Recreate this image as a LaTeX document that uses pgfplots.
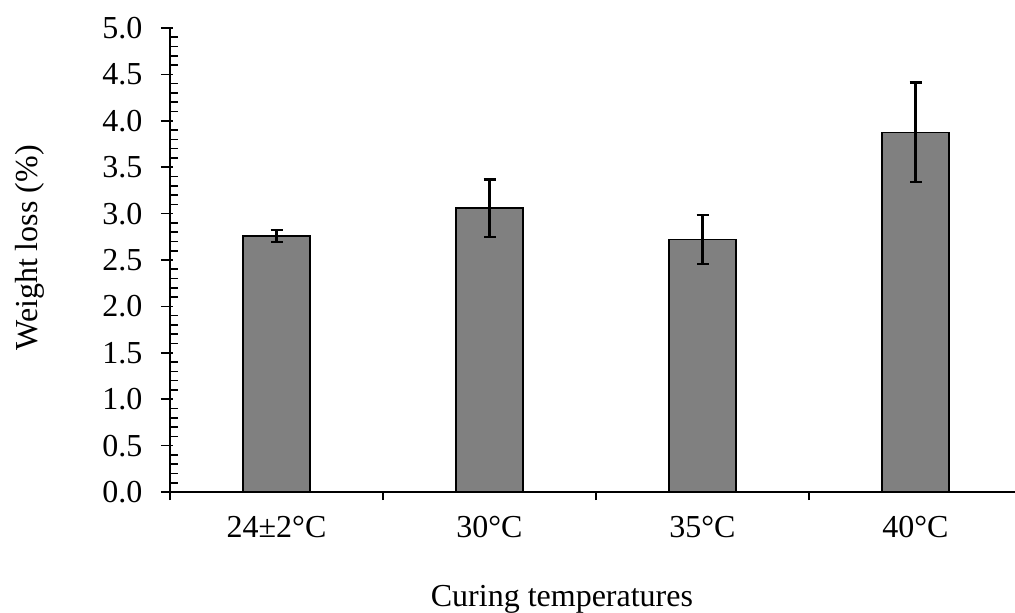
\documentclass[border=0pt]{standalone}
\usepackage{fontspec}
\setmainfont{Liberation Serif}
\usepackage{pgfplots}
\pgfplotsset{compat=1.18}
\definecolor{bargray}{RGB}{128,128,128}
\pgfplotstableread{
x y err
0 2.76 0.065
1 3.06 0.31
2 2.72 0.265
3 3.875 0.535
}\datatable
\begin{document}
\fontsize{16pt}{19pt}\selectfont
\begin{tikzpicture}
\begin{axis}[
  at={(85pt,60pt)}, anchor=south west,
  scale only axis, width=426pt, height=232pt,
  xmin=-0.5, xmax=3.5, ymin=0, ymax=5,
  axis lines*=left,
  axis line style={line width=0.9pt, black},
  ybar, bar width=33.5pt,
  xtick={0,1,2,3},
  xticklabels={24±2°C,30°C,35°C,40°C},
  minor xtick={-0.5,0.5,1.5,2.5,3.5},
  ytick={0,0.5,...,5},
  minor y tick num=4,
  tick align=outside,
  major tick length=5.85pt,
  minor tick length=4pt,
  every tick/.style={black, line width=0.8pt},
  every major x tick/.append style={draw=none},
  every major y tick/.append style={xshift=1.35pt},
  every minor y tick/.append style={xshift=4pt},
  yticklabel style={anchor=east, inner sep=0pt, xshift=-7.8pt,
    /pgf/number format/fixed, /pgf/number format/fixed zerofill,
    /pgf/number format/precision=1, /pgf/number format/assume math mode=true},
  xticklabel style={anchor=base, inner sep=0pt, yshift=-17pt},
  xlabel={Curing temperatures},
  xlabel style={at={(axis description cs:0.46,-0.2457)}, anchor=base, inner sep=0pt},
  ylabel={Weight loss (\%)},
  ylabel style={at={(axis description cs:-0.1643,0.526)}, anchor=center, inner sep=0pt},
]
\addplot[fill=bargray, draw=black, line width=0.85pt,
  error bars/.cd, y dir=both, y explicit,
  error bar style={line width=1.3pt, black},
  error mark options={rotate=90, mark size=3pt, line width=1.3pt, black}]
  table[x=x, y=y, y error=err] {\datatable};
\end{axis}
\pgfresetboundingbox
\path[use as bounding box] (0,0) rectangle (507.5pt,306pt);
\end{tikzpicture}
\end{document}
